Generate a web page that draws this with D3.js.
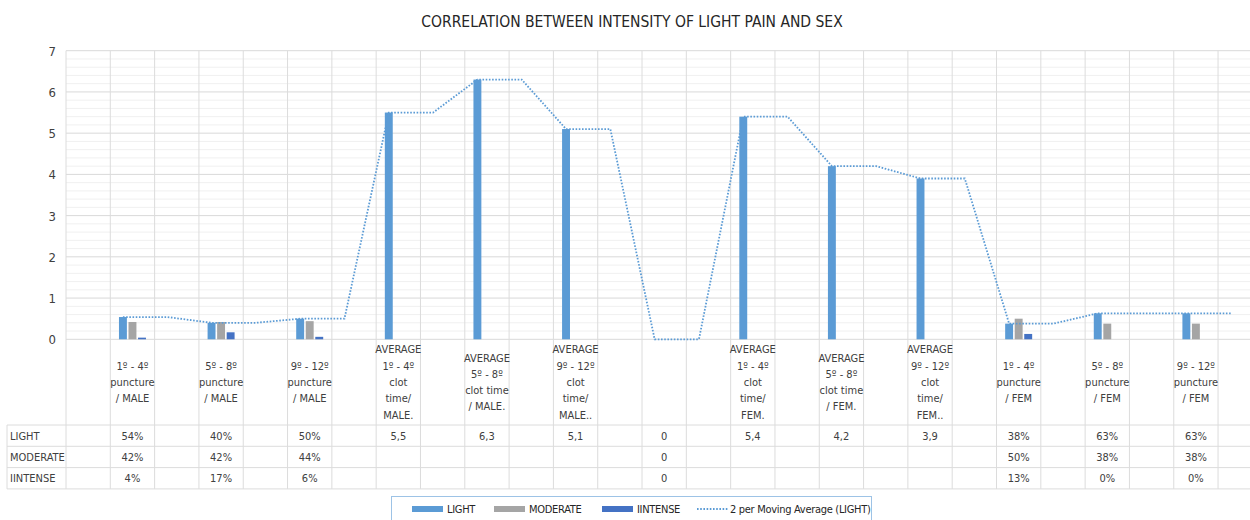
<!DOCTYPE html>
<html>
<head>
<meta charset="utf-8">
<title>Correlation between intensity of light pain and sex</title>
<script src="https://d3js.org/d3.v7.min.js"></script>
<style>
  body { margin:0; background:#fff; }
  text { font-family: "DejaVu Sans Condensed", "Liberation Sans Narrow", Lato, sans-serif; fill:#404040; }
  .title { font-size:15.5px; fill:#262626; }
  .tick-label { font-size:13px; }
  .cat-label, .cell, .row-label { font-size:11px; }
  .legend text { font-size:11px; fill:#262626; letter-spacing:-0.3px; }
  .grid-major { stroke:#d9d9d9; }
  .grid-minor { stroke:#f0f0f0; }
  .grid-v { stroke:#dcdcdc; }
</style>
</head>
<body>
<script>
// 27 category slots, only odd slots carry data (Excel sheet had blank columns in between)
var categories = ["",
  "1º - 4º|puncture|/ MALE", "",
  "5º - 8º|puncture|/ MALE", "",
  "9º - 12º|puncture|/ MALE", "",
  "AVERAGE|1º - 4º|clot|time/|MALE.", "",
  "AVERAGE|5º - 8º|clot time|/ MALE.", "",
  "AVERAGE|9º - 12º|clot|time/|MALE..", "",
  "", "",
  "AVERAGE|1º - 4º|clot|time/|FEM.", "",
  "AVERAGE|5º - 8º|clot time|/ FEM.", "",
  "AVERAGE|9º - 12º|clot|time/|FEM..", "",
  "1º - 4º|puncture|/ FEM", "",
  "5º - 8º|puncture|/ FEM", "",
  "9º - 12º|puncture|/ FEM", ""];

var light    = [null, 0.54, null, 0.40, null, 0.50, null, 5.5, null, 6.3, null, 5.1, null, 0, null, 5.4, null, 4.2, null, 3.9, null, 0.38, null, 0.63, null, 0.63, null];
var moderate = [null, 0.42, null, 0.42, null, 0.44, null, null, null, null, null, null, null, 0, null, null, null, null, null, null, null, 0.50, null, 0.38, null, 0.38, null];
var intense  = [null, 0.04, null, 0.17, null, 0.06, null, null, null, null, null, null, null, 0, null, null, null, null, null, null, null, 0.13, null, 0.00, null, 0.00, null];

var lightText    = ["", "54%", "", "40%", "", "50%", "", "5,5", "", "6,3", "", "5,1", "", "0", "", "5,4", "", "4,2", "", "3,9", "", "38%", "", "63%", "", "63%", ""];
var moderateText = ["", "42%", "", "42%", "", "44%", "", "", "", "", "", "", "", "0", "", "", "", "", "", "", "", "50%", "", "38%", "", "38%", ""];
var intenseText  = ["", "4%", "", "17%", "", "6%", "", "", "", "", "", "", "", "0", "", "", "", "", "", "", "", "13%", "", "0%", "", "0%", ""];

var seriesNames = ["LIGHT", "MODERATE", "IINTENSE"];
var seriesColors = ["#5B9BD5", "#A5A5A5", "#4472C4"];
var yTicks = [0, 1, 2, 3, 4, 5, 6, 7];

var W = 1250, H = 520;
var plotLeft = 66, catW = 44.31;
var plotTop = 50.7, plotBottom = 339.3;
var labelBottom = 425, rowH = 21.3;

var svg = d3.select("body").append("svg")
  .attr("width", W).attr("height", H);

var slots = d3.range(categories.length);
var x = d3.scaleBand().domain(slots)
  .range([plotLeft, plotLeft + catW * slots.length]).padding(0);
var xs = d3.scaleBand().domain(seriesNames).range([-13.5, 13.5]).paddingInner(0.17);
var y = d3.scaleLinear().domain([0, 7]).range([plotBottom, plotTop]);

// title
svg.append("text").attr("class", "title")
  .attr("x", 632).attr("y", 27).attr("text-anchor", "middle")
  .text("CORRELATION BETWEEN INTENSITY OF LIGHT PAIN AND SEX");

// minor + major horizontal gridlines
var minor = d3.range(0, 7.001, 0.2).filter(v => Math.abs(v - Math.round(v)) > 0.01);
svg.append("g").selectAll("line").data(minor).enter().append("line")
  .attr("class", "grid-minor")
  .attr("x1", plotLeft).attr("x2", W)
  .attr("y1", d => y(d)).attr("y2", d => y(d));
svg.append("g").selectAll("line").data(yTicks).enter().append("line")
  .attr("class", "grid-major")
  .attr("x1", plotLeft).attr("x2", W)
  .attr("y1", d => y(d)).attr("y2", d => y(d));

// vertical category lines, running down through the data table
var tableBottom = labelBottom + rowH * 3;
svg.append("g").selectAll("line").data(slots).enter().append("line")
  .attr("class", "grid-v")
  .attr("x1", d => x(d)).attr("x2", d => x(d))
  .attr("y1", plotTop).attr("y2", tableBottom);

// y axis labels
var yAxis = d3.axisLeft(y).tickValues(yTicks).tickFormat(d3.format("d")).tickSize(0).tickPadding(10);
var yG = svg.append("g").attr("transform", "translate(" + plotLeft + ",0)").call(yAxis);
yG.select(".domain").remove();
yG.selectAll("text").attr("class", "tick-label").attr("fill", null).attr("dy", "0.35em");

// bars
var seriesData = [light, moderate, intense];
seriesNames.forEach(function(name, si) {
  svg.append("g").selectAll("rect")
    .data(slots.filter(i => seriesData[si][i] != null))
    .enter().append("rect")
      .attr("x", i => x(i) + x.bandwidth() / 2 + xs(name))
      .attr("width", xs.bandwidth())
      .attr("y", i => y(seriesData[si][i]))
      .attr("height", i => y(0) - y(seriesData[si][i]))
      .style("fill", seriesColors[si]);
});

// 2 period moving average of LIGHT (blank cells skipped, like Excel)
var maPoints = [];
slots.forEach(function(i) {
  if (i < 1) return;
  var vals = [light[i - 1], light[i]].filter(v => v != null);
  if (vals.length) maPoints.push({i: i, v: d3.mean(vals)});
});
var lightOffset = x.bandwidth() / 2 + xs("LIGHT") + xs.bandwidth() / 2;
var maLine = d3.line().x(d => x(d.i) + lightOffset).y(d => y(d.v));
svg.append("path").datum(maPoints)
  .attr("d", maLine)
  .style("fill", "none")
  .style("stroke", "#5B9BD5")
  .style("stroke-width", 1.8)
  .style("stroke-dasharray", "1.6,1.6");

// category labels (vertically centred between axis and table)
var labelMid = (plotBottom + labelBottom) / 2, lineH = 16.3;
slots.forEach(function(i) {
  if (!categories[i]) return;
  var lines = categories[i].split("|");
  var t = svg.append("text").attr("class", "cat-label")
    .attr("text-anchor", "middle")
    .attr("x", x(i) + x.bandwidth() / 2)
    .attr("y", labelMid - (lines.length - 1) * lineH / 2);
  lines.forEach(function(l, k) {
    t.append("tspan").attr("x", x(i) + x.bandwidth() / 2)
      .attr("dy", k === 0 ? "0.35em" : lineH).text(l);
  });
});

// data table
var tableRows = [lightText, moderateText, intenseText];
var tg = svg.append("g");
d3.range(4).forEach(function(r) {
  tg.append("line").attr("class", "grid-v")
    .attr("x1", 7).attr("x2", W)
    .attr("y1", labelBottom + r * rowH).attr("y2", labelBottom + r * rowH);
});
tg.append("line").attr("class", "grid-v")
  .attr("x1", 7).attr("x2", 7).attr("y1", labelBottom).attr("y2", tableBottom);
tableRows.forEach(function(row, r) {
  var cy = labelBottom + r * rowH + rowH / 2;
  tg.append("text").attr("class", "row-label")
    .attr("x", 10).attr("y", cy).attr("dy", "0.35em").text(seriesNames[r]);
  tg.selectAll(null).data(slots.filter(i => row[i] !== "")).enter().append("text")
    .attr("class", "cell").attr("text-anchor", "middle")
    .attr("x", i => x(i) + x.bandwidth() / 2)
    .attr("y", cy).attr("dy", "0.35em")
    .text(i => row[i]);
});

// legend
var lg = svg.append("g").attr("class", "legend");
lg.append("rect").attr("x", 391.5).attr("y", 496.5).attr("width", 480).attr("height", 30)
  .style("fill", "#fff").style("stroke", "#9DC3E6");
var legendX = [412, 494, 602];
seriesNames.forEach(function(name, si) {
  lg.append("rect").attr("x", legendX[si]).attr("y", 506).attr("width", 31).attr("height", 6)
    .style("fill", seriesColors[si]);
  lg.append("text").attr("x", legendX[si] + 35).attr("y", 509).attr("dy", "0.35em").text(name);
});
lg.append("line").attr("x1", 697).attr("x2", 728).attr("y1", 509).attr("y2", 509)
  .style("stroke", "#5B9BD5").style("stroke-width", 1.8).style("stroke-dasharray", "1.6,1.6");
lg.append("text").attr("x", 730).attr("y", 509).attr("dy", "0.35em")
  .text("2 per Moving Average (LIGHT)");
</script>
</body>
</html>
